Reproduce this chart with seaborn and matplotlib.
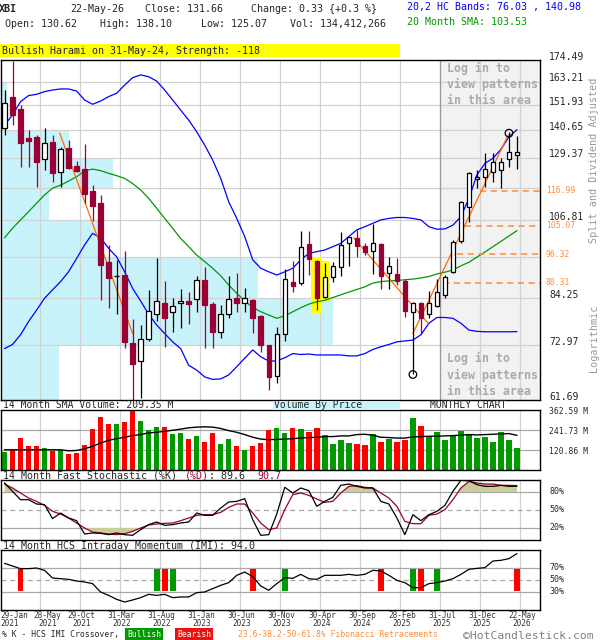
import numpy as np
import pandas as pd
import matplotlib
matplotlib.use("Agg")
import matplotlib.pyplot as plt
import matplotlib.transforms as mtransforms
from matplotlib.ticker import NullLocator
import seaborn as sns

# ---- monthly candles, Jan-2021 .. May-2026 (split & dividend adjusted)
opens = [141.6, 156.0, 150.1, 137.3, 138.0, 128.8, 135.7, 124.0, 133.2, 126.2,
         124.9, 116.9, 112.6, 94.2, 90.0, 90.4, 73.4, 69.4, 74.3, 80.2,
         82.9, 80.7, 82.9, 83.5, 83.9, 89.0, 82.8, 76.0, 80.2, 84.2,
         83.1, 83.8, 79.8, 73.0, 66.3, 75.4, 88.6, 88.2, 99.4, 94.4,
         84.5, 89.8, 92.6, 99.6, 101.2, 98.8, 97.4, 99.4, 90.9, 90.7,
         88.9, 80.8, 82.9, 80.2, 82.3, 85.1, 91.2, 100.3, 111.2, 121.2,
         122.1, 124.0, 124.5, 128.8, 130.62]
highs = [159.2, 174.0, 152.1, 140.9, 138.8, 141.6, 138.8, 133.9, 136.6, 128.1,
         134.8, 119.1, 115.5, 99.1, 94.7, 97.3, 79.0, 77.6, 86.4, 95.1,
         88.8, 84.4, 86.5, 85.8, 90.1, 92.6, 83.2, 82.6, 90.0, 90.9,
         86.8, 83.9, 79.9, 73.0, 77.2, 92.0, 94.4, 103.5, 103.5, 94.7,
         93.7, 94.2, 103.0, 101.7, 103.8, 99.6, 105.6, 99.6, 95.4, 95.1,
         89.3, 83.3, 83.3, 86.2, 89.3, 90.4, 100.6, 113.3, 123.8, 124.6,
         131.4, 131.2, 129.3, 139.8, 138.10]
lows = [138.8, 143.1, 125.9, 125.9, 118.2, 124.7, 120.3, 118.5, 124.9, 124.0,
        112.6, 106.8, 83.8, 81.7, 80.2, 72.4, 61.7, 62.0, 73.9, 78.6,
        72.6, 76.0, 77.0, 77.8, 80.8, 72.4, 72.4, 74.6, 79.2, 80.8,
        80.8, 75.8, 71.5, 63.7, 64.9, 73.9, 85.8, 87.7, 90.4, 81.2,
        84.2, 88.6, 90.2, 92.8, 95.4, 96.1, 90.7, 86.6, 86.6, 87.7,
        79.5, 66.7, 75.6, 79.2, 81.9, 84.4, 91.0, 99.8, 106.4, 117.9,
        118.5, 120.3, 117.9, 125.9, 125.07]
closes = [152.8, 147.5, 135.5, 136.4, 127.9, 135.2, 123.4, 132.8, 125.3, 124.4,
          115.8, 111.8, 93.2, 89.7, 90.2, 73.7, 68.8, 74.3, 81.1, 83.6,
          79.2, 82.2, 83.5, 82.8, 89.0, 82.6, 76.0, 80.2, 83.9, 82.9,
          84.2, 79.2, 73.0, 66.1, 75.4, 89.2, 87.3, 98.4, 94.9, 84.4,
          89.8, 92.9, 99.0, 101.5, 98.9, 97.1, 99.6, 90.0, 92.9, 88.9,
          81.1, 82.9, 79.2, 82.9, 85.8, 89.8, 100.1, 112.9, 123.6, 121.9,
          124.9, 127.9, 127.8, 131.6, 131.66]

# volume in millions of shares, and its 14 month SMA
volumes = [106, 122, 193, 147, 147, 132, 116, 118, 98, 102,
           153, 249, 322, 275, 281, 291, 363, 297, 242, 261,
           257, 220, 226, 187, 208, 167, 226, 159, 187, 147,
           122, 147, 165, 242, 255, 226, 255, 248, 230, 255,
           210, 157, 181, 163, 157, 149, 218, 169, 187, 169,
           181, 316, 267, 204, 230, 181, 212, 236, 218, 194,
           200, 169, 230, 181, 134.4]
vol_sma = [122, 122, 122, 122, 122, 122, 122, 122, 116, 118,
           128, 143, 163, 179, 189, 198, 208, 214, 224, 228,
           234, 240, 247, 255, 259, 261, 259, 251, 238, 228,
           214, 198, 187, 183, 185, 187, 189, 193, 196, 198,
           202, 202, 206, 206, 214, 216, 210, 198, 196, 193,
           193, 200, 202, 204, 204, 206, 208, 210, 214, 212,
           214, 216, 218, 220, 209.35]

# 20,2 HC bands and 20 month SMA
hc_upper = [143.0, 147.5, 153.6, 156.5, 157.1, 158.4, 159.2, 159.7, 159.7, 158.7,
            154.4, 152.4, 153.9, 156.0, 157.6, 161.6, 165.3, 166.7, 165.8, 163.6,
            159.2, 154.4, 149.7, 145.2, 140.1, 134.5, 128.5, 121.5, 113.1, 107.5,
            101.7, 94.7, 92.3, 91.3, 90.4, 91.3, 92.3, 94.7, 96.6, 97.1,
            97.6, 98.6, 99.6, 101.7, 103.8, 104.8, 105.9, 107.0, 107.5, 107.8,
            107.8, 107.5, 107.0, 104.8, 104.0, 104.1, 105.3, 108.1, 114.3, 122.8,
            127.2, 129.2, 132.8, 138.0, 140.98]
hc_lower = [72.2, 73.1, 75.3, 78.4, 81.2, 84.2, 86.4, 88.6, 91.3, 95.1,
            99.1, 102.7, 101.3, 98.1, 95.6, 91.3, 86.8, 83.5, 80.2, 77.6,
            75.6, 73.7, 72.2, 68.6, 67.6, 66.2, 65.7, 65.8, 66.6, 68.3,
            70.1, 71.9, 70.4, 69.5, 69.5, 70.2, 71.1, 70.9, 71.0, 70.8,
            70.8, 70.8, 70.8, 70.6, 70.6, 71.1, 72.0, 72.6, 73.1, 73.7,
            73.9, 74.1, 75.3, 78.0, 79.4, 79.4, 79.2, 78.0, 76.4, 76.1,
            76.0, 76.0, 76.0, 76.0, 76.03]
sma20 = [101.3, 104.3, 107.0, 109.7, 112.6, 115.5, 117.9, 119.0, 120.5, 122.1,
         124.3, 125.0, 124.4, 123.4, 122.5, 121.5, 119.6, 117.3, 114.3, 110.9,
         107.5, 104.3, 101.1, 98.6, 96.1, 94.2, 92.3, 90.2, 87.7, 85.5,
         83.5, 81.9, 80.8, 80.0, 79.2, 79.8, 80.8, 81.8, 82.7, 83.3,
         83.7, 84.4, 85.1, 85.8, 86.5, 87.2, 88.2, 88.6, 88.8, 88.9,
         89.1, 89.3, 89.6, 90.0, 90.7, 91.2, 91.8, 93.0, 94.0, 95.5,
         97.0, 98.6, 100.2, 101.9, 103.53]

# 14 month fast stochastic
stoch_k = [95.0, 81.1, 67.2, 67.2, 60.0, 58.9, 35.6, 45.0, 36.7, 32.2,
           10.0, 11.7, 11.1, 8.9, 11.7, 8.9, 7.8, 17.2, 25.6, 30.0,
           24.4, 25.6, 28.3, 30.0, 45.0, 41.1, 41.1, 53.3, 63.3, 64.4,
           68.9, 33.9, 7.8, 8.9, 43.3, 87.8, 78.3, 86.7, 82.2, 56.1,
           64.4, 71.1, 91.1, 93.3, 89.4, 86.7, 86.7, 64.4, 60.0, 36.7,
           8.9, 42.2, 32.2, 42.2, 47.8, 57.8, 81.1, 99.4, 98.9, 92.2,
           89.4, 89.4, 91.1, 89.4, 89.6]
stoch_d = [93.3, 86.7, 78.3, 70.0, 64.4, 57.8, 47.8, 43.3, 36.7, 28.3,
           20.0, 13.3, 11.7, 10.0, 8.9, 10.6, 14.4, 20.0, 25.0, 26.7,
           27.8, 28.3, 32.2, 36.7, 41.1, 42.2, 42.2, 46.1, 54.4, 60.0,
           60.0, 45.0, 28.3, 17.2, 20.0, 50.6, 75.6, 78.3, 74.4, 68.3,
           62.8, 64.4, 78.3, 89.4, 90.6, 87.8, 86.7, 78.3, 70.0, 56.1,
           31.1, 27.2, 27.2, 41.1, 43.3, 50.6, 67.2, 86.7, 97.8, 95.0,
           93.3, 93.3, 91.1, 91.1, 90.7]

# 14 month HCS intraday momentum and %K crossovers
imi = [77.8, 73.3, 68.9, 68.9, 70.0, 66.1, 53.3, 52.2, 51.1, 48.3,
       46.7, 43.9, 30.0, 24.4, 17.8, 13.3, 16.7, 20.6, 26.1, 24.4,
       26.1, 20.6, 21.7, 21.7, 28.9, 30.0, 35.6, 41.1, 45.6, 57.8,
       63.3, 55.6, 40.0, 32.8, 43.9, 53.9, 52.8, 59.4, 52.2, 51.1,
       57.8, 57.8, 57.8, 59.4, 57.8, 59.4, 66.1, 65.0, 57.8, 49.4,
       45.6, 37.2, 37.2, 43.9, 45.6, 48.3, 52.2, 59.4, 67.8, 69.4,
       70.6, 81.7, 82.8, 85.6, 94.0]
imi_bullish = [19, 21, 35, 51, 54]
imi_bearish = [2, 20, 31, 47, 52, 64]

# price axis levels and volume by price per band (bottom -> top)
price_ticks = [61.69, 72.97, 84.25, 95.53, 106.81, 118.09, 129.37, 140.65, 151.93, 163.21, 174.49]
price_labels = ["61.69", "72.97", "84.25", "", "106.81", "", "129.37", "140.65", "151.93", "163.21", "174.49"]
vbp_volume = [590, 3330, 2580, 1020, 490, 1130, 690, 70, 70, 0]

fib_levels = [116.99, 105.07, 96.32, 88.31]
fib_start = [59.4, 57.5, 56.5, 54.75]
trend_lines = [((6.9, 139.5), (16.0, 75.6)),
               ((43.6, 101.3), (52.9, 78.0)),
               ((51.0, 75.6), (62.9, 138.7))]
pattern_idx = [39, 40]
swing_points = [(63, 139.5), (51, 66.7)]

date_idx = [0, 4, 9, 14, 19, 24, 29, 34, 39, 44, 49, 54, 59, 64]
date_labels = [("29-Jan", "2021"), ("28-May", "2021"), ("29-Oct", "2021"), ("31-Mar", "2022"),
               ("31-Aug", "2022"), ("31-Jan", "2023"), ("30-Jun", "2023"), ("30-Nov", "2023"),
               ("30-Apr", "2024"), ("30-Sep", "2024"), ("28-Feb", "2025"), ("31-Jul", "2025"),
               ("31-Dec", "2025"), ("22-May", "2026")]

# ---- style
RED = "#990033"
VRED = "#FF0000"
VGREEN = "#009900"
CYAN = "#C9F3FA"
GRID = "#D2D2D2"
PGRID = "#A8A8A8"
KHAKI = "#CCCC99"
ORANGE = "#FF6A00"
FIBC = "#FF8C3A"
MONO = "DejaVu Sans Mono"

sns.set_style("white")
plt.rcParams["font.family"] = [MONO, "DejaVu Sans"]

W, H = 600, 640
fig = plt.figure(figsize=(6, 6.4), dpi=100)


def px_axes(x0, y0, x1, y1):
    return fig.add_axes([x0 / W, 1 - y1 / H, (x1 - x0) / W, (y1 - y0) / H])


def ftext(x, y, s, **kw):
    kw.setdefault("va", "center")
    kw.setdefault("ha", "left")
    kw.setdefault("size", 7.2)
    return fig.text(x / W, 1 - y / H, s, **kw)


def right_label(ax, y, s, dx, dy=0, **kw):
    tr = mtransforms.offset_copy(ax.get_yaxis_transform(), fig=fig, x=dx, y=dy, units="dots")
    kw.setdefault("size", 7)
    ax.text(1, y, s, transform=tr, va="center", ha="left", clip_on=False, **kw)


def clean(ax):
    ax.set(xlabel="", ylabel="")
    for axis in (ax.xaxis, ax.yaxis):
        axis.set_major_locator(NullLocator())
        axis.set_minor_locator(NullLocator())
    for sp in ax.spines.values():
        sp.set_visible(True)
        sp.set_color("black")
        sp.set_linewidth(1.0)


idx = np.arange(len(closes))
o, h, l, c = map(np.array, (opens, highs, lows, closes))
up = c >= o
x_left, x_right = -0.5, 66.875
grid_x = [d + 0.375 for d in date_idx[1:]]
shade_from = grid_x[10]

# ================= main price panel
ax = px_axes(0.5, 60, 540, 400)
ax.set_yscale("log")
ax.axvspan(shade_from, x_right, color="#F2F2F2", lw=0, zorder=0)
edges = np.array(price_ticks)
vbp_len = np.array(vbp_volume) / max(vbp_volume) * 41.5
ax.barh(edges[:-1], vbp_len, height=np.diff(edges), left=x_left, align="edge",
        color=CYAN, lw=0, zorder=0.5)
for gx in grid_x:
    ax.axvline(gx, color=GRID, lw=0.9, zorder=1)
for lv in price_ticks[1:-1]:
    ax.axhline(lv, color=GRID, lw=0.9, zorder=1)
ax.axvline(shade_from, color="#9A9A9A", lw=0.9, zorder=1.2)

for i in pattern_idx:
    ax.bar(i, h[i] * 1.008 - l[i] * 0.99, bottom=l[i] * 0.99, width=1.35,
           color="#FFFF00", lw=0, zorder=1.5)

bands = pd.DataFrame({"i": idx, "upper": hc_upper, "lower": hc_lower, "sma": sma20})
sns.lineplot(data=bands, x="i", y="upper", ax=ax, color="#0000FF", lw=0.9, zorder=2)
sns.lineplot(data=bands, x="i", y="lower", ax=ax, color="#0000FF", lw=0.9, zorder=2)
sns.lineplot(data=bands, x="i", y="sma", ax=ax, color="#009900", lw=0.9, zorder=2)
for (x0, y0), (x1, y1) in trend_lines:
    ax.plot([x0, x1], [y0, y1], color=ORANGE, lw=0.9, zorder=2.2)

for mask, fc, ec in ((up, "white", "black"), (~up, RED, RED)):
    ax.vlines(idx[mask], l[mask], h[mask], color=ec, lw=0.9, zorder=3)
    body_lo = np.minimum(o, c)[mask]
    body_h = np.maximum(np.abs(c - o)[mask], 0.15)
    ax.bar(idx[mask], body_h, bottom=body_lo, width=0.56, facecolor=fc,
           edgecolor=ec, lw=0.9, zorder=4)

sx, sy = zip(*swing_points)
ax.scatter(sx, sy, s=30, facecolors="none", edgecolors="black", lw=0.9, zorder=5)

for lv, st in zip(fib_levels, fib_start):
    ax.hlines(lv, st, x_right, colors=FIBC, linestyles=(0, (4, 3)), lw=1.1, zorder=2.1)
    right_label(ax, lv, f"{lv:.2f}", 6, color=FIBC, size=5.8)

msg = "Log in to\nview patterns\nin this area"
ax.text(55.25, 0.995, msg, transform=ax.get_xaxis_transform(), va="top", ha="left",
        size=8.4, weight="bold", color="#AAAAAA", linespacing=1.3, zorder=1.6)
ax.text(55.25, 0.14, msg, transform=ax.get_xaxis_transform(), va="top", ha="left",
        size=8.4, weight="bold", color="#AAAAAA", linespacing=1.3, zorder=1.6)

ax.set_xlim(x_left, x_right)
ax.set_ylim(price_ticks[0], price_ticks[-1])
clean(ax)
for lv, s in zip(price_ticks, price_labels):
    if s:
        right_label(ax, lv, s, 9, 3.5)

# ================= volume panel
axv = px_axes(0.5, 410, 540, 470)
for gx in grid_x:
    axv.axvline(gx, color=GRID, lw=0.9, zorder=1)
vol_top = 362.59
for lv in (vol_top / 3, vol_top * 2 / 3):
    axv.axhline(lv, color=PGRID, lw=0.9, zorder=1)
axv.bar(idx, volumes, width=0.68, color=np.where(up, VGREEN, VRED), lw=0, zorder=2)
sns.lineplot(x=idx, y=vol_sma, ax=axv, color="black", lw=1.0, zorder=3)
axv.set_xlim(x_left, x_right)
axv.set_ylim(0, vol_top)
clean(axv)
for lv, s in ((vol_top, "362.59 M"), (vol_top * 2 / 3, "241.73 M"), (vol_top / 3, "120.86 M")):
    right_label(axv, lv, s, 9, -1.5, size=5.8)

# ================= stochastic panel
axs = px_axes(0.5, 480, 540, 540)
for gx in grid_x:
    axs.axvline(gx, color=GRID, lw=0.9, zorder=1)
axs.axhline(80, color=PGRID, lw=0.9, zorder=1)
axs.axhline(20, color=PGRID, lw=0.9, zorder=1)
axs.axhline(50, color=PGRID, lw=0.9, ls=(0, (4, 3)), zorder=1)
kd = np.array(stoch_d)
axs.fill_between(idx, kd, 80, where=kd > 80, interpolate=True, color=KHAKI, lw=0, zorder=1.5)
axs.fill_between(idx, kd, 20, where=kd < 20, interpolate=True, color=KHAKI, lw=0, zorder=1.5)
sns.lineplot(x=idx, y=stoch_d, ax=axs, color=RED, lw=0.9, zorder=2)
sns.lineplot(x=idx, y=stoch_k, ax=axs, color="black", lw=0.9, zorder=3)
axs.set_xlim(x_left, x_right)
axs.set_ylim(0, 100)
clean(axs)
for lv in (80, 50, 20):
    right_label(axs, lv, f"{lv}%", 9, size=6)

# ================= IMI panel
axi = px_axes(0.5, 550, 540, 610)
for gx in grid_x:
    axi.axvline(gx, color=GRID, lw=0.9, zorder=1)
axi.axhline(70, color=PGRID, lw=0.9, zorder=1)
axi.axhline(30, color=PGRID, lw=0.9, zorder=1)
axi.axhline(50, color=PGRID, lw=0.9, ls=(0, (4, 3)), zorder=1)
axi.bar(imi_bullish, 36, bottom=32, width=0.72, color=VGREEN, lw=0, zorder=2)
axi.bar(imi_bearish, 36, bottom=32, width=0.72, color=VRED, lw=0, zorder=2)
sns.lineplot(x=idx, y=imi, ax=axi, color="black", lw=0.9, zorder=3)
axi.set_xlim(x_left, x_right)
axi.set_ylim(0, 100)
clean(axi)
for lv in (70, 50, 30):
    right_label(axi, lv, f"{lv}%", 9, size=6)

xt = axi.get_xaxis_transform()
for k, (d, (top, bot)) in enumerate(zip(date_idx, date_labels)):
    if k == 0:
        xpos, ha = x_left, "left"
    elif k == 1:
        xpos, ha = d + 1.375, "center"
    else:
        xpos, ha = d + 0.625, "center"
    axi.text(xpos, -0.092, top, transform=xt, ha=ha, va="center", size=5.6, color="#333333")
    axi.text(xpos, -0.233, bot, transform=xt, ha=ha, va="center", size=5.6, color="#333333")

# ================= header and captions
ftext(-1, 9, "XBI", weight="bold")
ftext(70, 9, "22-May-26")
ftext(145, 9, "Close: 131.66")
ftext(251, 9, "Change: 0.33 {+0.3 %}")
ftext(5, 24, "Open: 130.62")
ftext(100, 24, "High: 138.10")
ftext(201, 24, "Low: 125.07")
ftext(290, 24, "Vol: 134,412,266")
ftext(407, 7, "20,2 HC Bands: 76.03 , 140.98", color="#0000FF")
ftext(407, 22, "20 Month SMA: 103.53", color="#009900")

fig.add_artist(plt.Rectangle((0, 1 - 57 / H), 400 / W, 13 / H, transform=fig.transFigure,
                             color="#FFFF00", lw=0))
ftext(2, 51, "Bullish Harami on 31-May-24, Strength: -118")

ftext(594, 160, "Split and Dividend Adjusted", rotation=90, ha="center", color="#999999", size=7.3)
ftext(594, 338, "Logarithmic", rotation=90, ha="center", color="#999999", size=7.3)

fig.add_artist(plt.Rectangle((273 / W, 1 - 409.5 / H), 127 / W, 9 / H, transform=fig.transFigure,
                             color=CYAN, lw=0))
ftext(3, 404.5, "14 Month SMA Volume: 209.35 M", size=7)
ftext(274, 404.5, "Volume By Price", size=7)
ftext(430, 404.5, "MONTHLY CHART", size=7)

ftext(3, 476, "14 Month Fast Stochastic (%K)")
ftext(185, 476, "(%D)", color=RED)
ftext(209, 476, ": 89.6")
ftext(257, 476, "90.7", color=RED)

ftext(3, 546, "14 Month HCS Intraday Momentum (IMI): 94.0")

ftext(2, 634.5, "% K - HCS IMI Crossover,", size=5.8)
ftext(127, 634.5, "Bullish", size=5.8, color="white",
      bbox=dict(boxstyle="square,pad=0.2", fc=VGREEN, ec="none"))
ftext(177, 634.5, "Bearish", size=5.8, color="white",
      bbox=dict(boxstyle="square,pad=0.2", fc="#EE1111", ec="none"))
ftext(238, 634.5, "23.6-38.2-50-61.8% Fibonacci Retracements", size=5.8, color=FIBC)
ftext(463, 636, "\u00a9HotCandlestick.com", size=8.2, color="#808080")

fig.savefig("out.png", dpi=100)
